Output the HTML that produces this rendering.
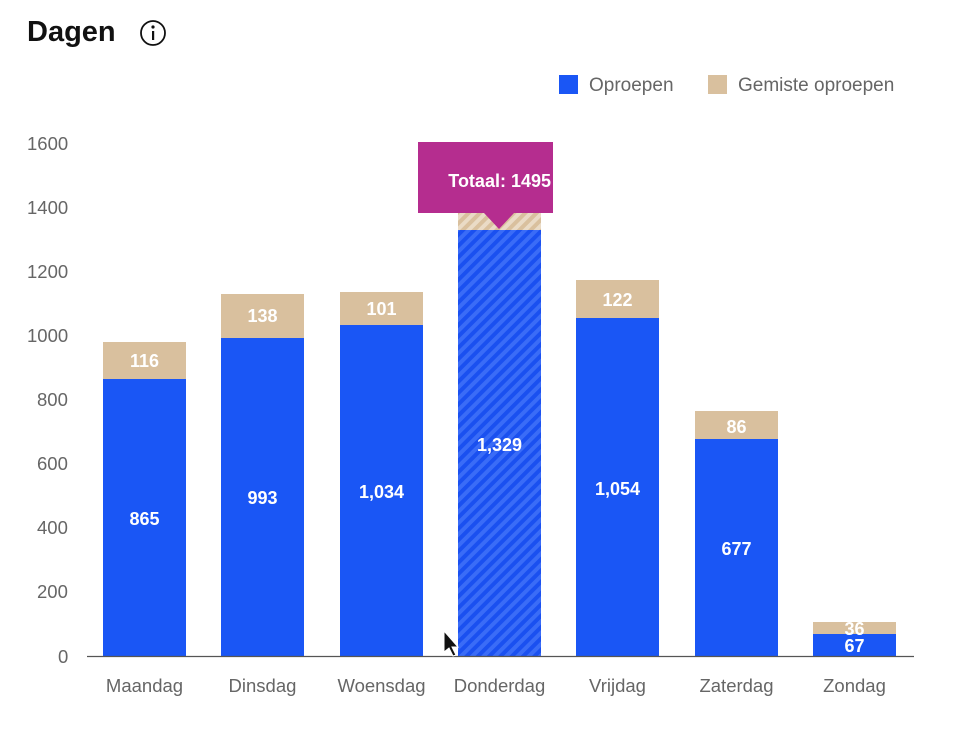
<!DOCTYPE html>
<html><head><meta charset="utf-8"><style>
html,body{margin:0;padding:0;background:#fff;width:972px;height:738px;overflow:hidden}
svg{display:block;font-family:"Liberation Sans",sans-serif}
</style></head><body>
<svg width="972" height="738" viewBox="0 0 972 738">
<defs>
<pattern id="hb" patternUnits="userSpaceOnUse" width="8" height="8" patternTransform="rotate(45)">
<rect width="8" height="8" fill="#3a6cf7"/><rect width="4" height="8" fill="#1a50f0"/></pattern>
<pattern id="ht" patternUnits="userSpaceOnUse" width="8" height="8" patternTransform="rotate(45)">
<rect width="8" height="8" fill="#eadbc6"/><rect width="4" height="8" fill="#d9c09e"/></pattern>
</defs>
<text x="27" y="41" font-size="29" font-weight="bold" fill="#111">Dagen</text>
<circle cx="153" cy="33" r="12" fill="none" stroke="#111" stroke-width="1.8"/>
<circle cx="153" cy="27" r="1.6" fill="#111"/>
<rect x="152" y="31" width="2.2" height="9" fill="#111"/>
<rect x="559" y="75" width="19" height="19" fill="#1a56f5"/>
<text x="589" y="91" font-size="19" fill="#666">Oproepen</text>
<rect x="708" y="75" width="19" height="19" fill="#d9c09e"/>
<text x="738" y="91" font-size="19" fill="#666">Gemiste oproepen</text>
<g font-size="18.5" fill="#666">
<text x="27" y="150">1600</text><text x="27" y="214">1400</text><text x="27" y="278">1200</text>
<text x="27" y="342">1000</text><text x="37" y="406">800</text><text x="37" y="470">600</text>
<text x="37" y="534">400</text><text x="37" y="598">200</text><text x="58" y="663">0</text>
</g>
<g font-size="18" font-weight="bold" fill="#fff" text-anchor="middle">
<rect x="103" y="342" width="83" height="37" fill="#d9c09e"/><rect x="103" y="379" width="83" height="277" fill="#1a56f5"/>
<text x="144.5" y="367">116</text><text x="144.5" y="525">865</text>
<rect x="221" y="294" width="83" height="44" fill="#d9c09e"/><rect x="221" y="338" width="83" height="318" fill="#1a56f5"/>
<text x="262.5" y="322">138</text><text x="262.5" y="504">993</text>
<rect x="340" y="292" width="83" height="33" fill="#d9c09e"/><rect x="340" y="325" width="83" height="331" fill="#1a56f5"/>
<text x="381.5" y="315">101</text><text x="381.5" y="498">1,034</text>
<rect x="458" y="177" width="83" height="53" fill="url(#ht)"/><rect x="458" y="230" width="83" height="426" fill="url(#hb)"/>
<text x="499.5" y="451">1,329</text>
<rect x="576" y="280" width="83" height="38" fill="#d9c09e"/><rect x="576" y="318" width="83" height="338" fill="#1a56f5"/>
<text x="617.5" y="306">122</text><text x="617.5" y="495">1,054</text>
<rect x="695" y="411" width="83" height="28" fill="#d9c09e"/><rect x="695" y="439" width="83" height="217" fill="#1a56f5"/>
<text x="736.5" y="433">86</text><text x="736.5" y="555">677</text>
<rect x="813" y="622" width="83" height="12" fill="#d9c09e"/><rect x="813" y="634" width="83" height="22" fill="#1a56f5"/>
<text x="854.5" y="635">36</text><text x="854.5" y="652">67</text>
</g>
<line x1="87" y1="656.5" x2="914" y2="656.5" stroke="#555" stroke-width="1.2"/>
<g font-size="18.5" fill="#666" text-anchor="middle">
<text x="144.5" y="692">Maandag</text><text x="262.5" y="692">Dinsdag</text><text x="381.5" y="692">Woensdag</text>
<text x="499.5" y="692">Donderdag</text><text x="617.5" y="692">Vrijdag</text><text x="736.5" y="692">Zaterdag</text>
<text x="854.5" y="692">Zondag</text>
</g>
<path d="M418 142H553V213H514L499 229L484 213H418Z" fill="#b52d8f"/>
<text x="551" y="187" font-size="18" font-weight="bold" fill="#fff" text-anchor="end">Totaal: 1495</text>
<path d="M444 631L444 652L449 648L453 656L456 655L452 647L458 647Z" fill="#111" stroke="#fff" stroke-width="1"/>
</svg>
</body></html>
